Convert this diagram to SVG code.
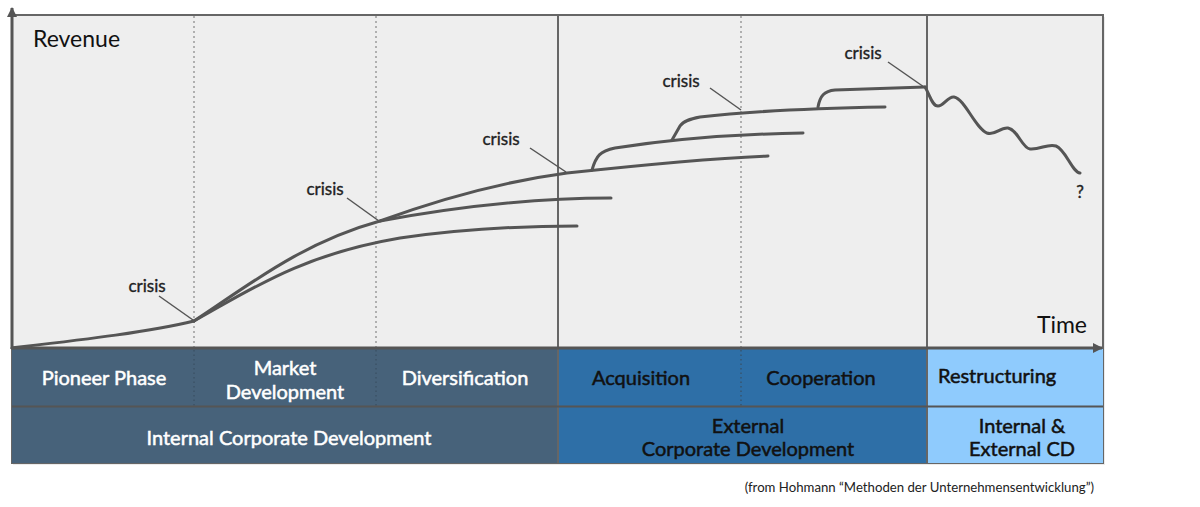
<svg xmlns="http://www.w3.org/2000/svg" width="1200" height="507" viewBox="0 0 1200 507">
<defs>
<style>
.t{font-family:Lato,"Open Sans","Liberation Sans",sans-serif}
.lab{font-size:17px;fill:#222;stroke:#222;stroke-width:0.35}
.band{font-size:20px;text-anchor:middle;stroke-width:0.5}
.w{fill:#ffffff;stroke:#ffffff}
.d{fill:#111111;stroke:#111111}
.curve{fill:none;stroke:#555;stroke-width:3;stroke-linecap:round;stroke-linejoin:round}
.ptr{stroke:#555;stroke-width:1.5}
.dot{stroke:#9a9a9a;stroke-width:1.5;stroke-dasharray:2,3}
.dotb{stroke:#3a4f62;stroke-width:1.2;stroke-dasharray:1.5,3}
.solid{stroke:#666;stroke-width:2}
</style>
<marker id="ah" viewBox="0 0 10 10" refX="9" refY="5" markerWidth="10" markerHeight="10" markerUnits="userSpaceOnUse" orient="auto">
<path d="M0,0 L10,5 L0,10 z" fill="#555"/>
</marker>
</defs>
<rect width="1200" height="507" fill="#ffffff"/>
<g id="frame">
<rect x="13" y="17" width="1092" height="448" fill="#d8d8d8" opacity="0.5"/>
<rect x="12" y="15" width="1091" height="448" fill="#eeeeee" stroke="#666" stroke-width="2"/>
</g>
<g id="band-internal">
<rect x="12" y="349" width="546" height="114" fill="#47627a"/>
<line class="dotb" x1="194" y1="350" x2="194" y2="406"/>
<line class="dotb" x1="376" y1="350" x2="376" y2="406"/>
<text class="t band w" x="104" y="385">Pioneer Phase</text>
<text class="t band w" x="285" y="375">Market</text>
<text class="t band w" x="285" y="399">Development</text>
<text class="t band w" x="465" y="385">Diversification</text>
<text class="t band w" x="289" y="445">Internal Corporate Development</text>
</g>
<g id="band-external">
<rect x="558" y="349" width="369" height="114" fill="#2e6fa7"/>
<line class="dotb" x1="741" y1="350" x2="741" y2="406"/>
<text class="t band d" x="641" y="385">Acquisition</text>
<text class="t band d" x="821" y="385">Cooperation</text>
<text class="t band d" x="748" y="433">External</text>
<text class="t band d" x="748" y="456">Corporate Development</text>
</g>
<g id="band-restructuring">
<rect x="927" y="349" width="176" height="114" fill="#8fcbfd"/>
<text class="t d" x="938" y="383" font-size="20" stroke-width="0.5">Restructuring</text>
<text class="t band d" x="1022" y="433">Internal &amp;</text>
<text class="t band d" x="1022" y="456">External CD</text>
</g>
<g id="grid">
<line class="dot" x1="194" y1="16" x2="194" y2="348"/>
<line class="dot" x1="376" y1="16" x2="376" y2="348"/>
<line class="dot" x1="741" y1="16" x2="741" y2="348"/>
<line class="solid" x1="558" y1="16" x2="558" y2="463"/>
<line class="solid" x1="927" y1="16" x2="927" y2="463"/>
<line x1="12" y1="406.5" x2="1103" y2="406.5" stroke="#555" stroke-width="2"/>
</g>
<g id="axes">
<line x1="12" y1="349" x2="12" y2="8" stroke="#555" stroke-width="3" marker-end="url(#ah)"/>
<line x1="12" y1="348" x2="1102" y2="348" stroke="#555" stroke-width="3" marker-end="url(#ah)"/>
<text class="t" x="33" y="47" font-size="23" fill="#111">Revenue</text>
<text class="t" x="1087" y="333" font-size="23" fill="#111" text-anchor="end">Time</text>
</g>
<g id="connectors">
<path class="curve" d="M12,348 C80,340 150,332 194,321"/>
<path class="curve" d="M194,321 C245,288 300,243 380,221 C440,199 500,182 567,173 C650,164 720,158 768,156"/>
<path class="curve" d="M194,321 C250,290 300,255 400,238 C470,228 530,226 577,226"/>
<path class="curve" d="M380,221 C450,208 530,198 611,198"/>
<path class="curve" d="M592,170 C596,156 600,151 615,148 C680,138 740,134 803,133"/>
<path class="curve" d="M672,140 L680,126 C683,121 690,119 700,117 C760,110 830,108 885,107"/>
<path class="curve" d="M818,107 C820,96 824,91 835,90 L925,87"/>
<path class="curve" d="M925,87 C930,95 932,106 938,106 C944,106 948,96 954,97 C965,99 975,128 987,133 C995,136 1000,127 1008,128 C1018,130 1022,148 1030,149 C1040,150 1048,143 1056,146 C1066,150 1072,172 1080,173"/>
<line class="ptr" x1="159" y1="296" x2="193" y2="320"/>
<line class="ptr" x1="347" y1="198" x2="379" y2="221"/>
<line class="ptr" x1="530" y1="148" x2="566" y2="172"/>
<line class="ptr" x1="710" y1="88" x2="741" y2="110"/>
<line class="ptr" x1="888" y1="62" x2="924" y2="87"/>
</g>
<g id="labels">
<text class="t lab" x="147" y="292" text-anchor="middle">crisis</text>
<text class="t lab" x="325" y="195" text-anchor="middle">crisis</text>
<text class="t lab" x="501" y="145" text-anchor="middle">crisis</text>
<text class="t lab" x="681" y="87" text-anchor="middle">crisis</text>
<text class="t lab" x="863" y="59" text-anchor="middle">crisis</text>
<text class="t" x="1080" y="198" font-size="17" fill="#222" stroke="#222" stroke-width="0.4" text-anchor="middle">?</text>
</g>
<g id="footer">
<text class="t" x="1094" y="492" font-size="13.2" fill="#222" text-anchor="end">(from Hohmann “Methoden der Unternehmensentwicklung”)</text>
</g>
</svg>
